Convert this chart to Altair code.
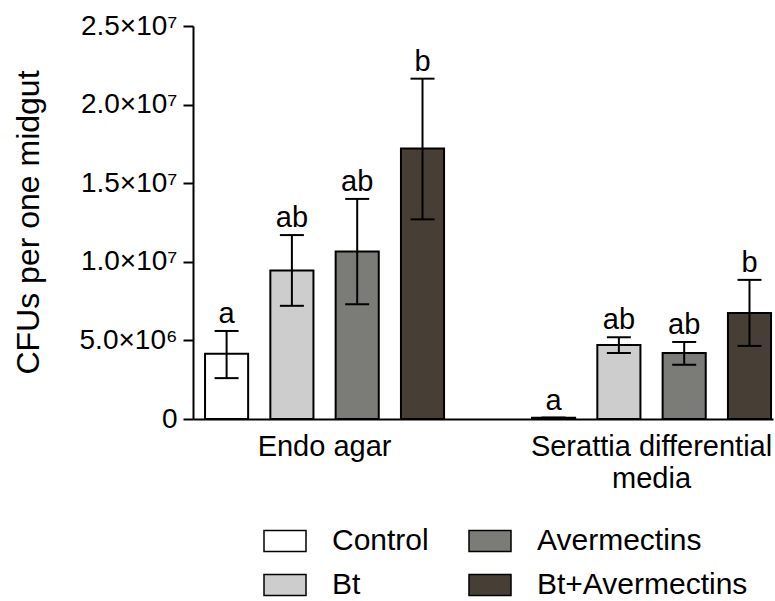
import altair as alt
import pandas as pd

# ---- data ----
groups = ["Endo agar", "Serattia differential media"]
treatments = ["Control", "Bt", "Avermectins", "Bt+Avermectins"]
colors = ["#ffffff", "#cdcdcd", "#7b7c77", "#473f35"]

mean_endo = [4.15e6, 9.45e6, 1.065e7, 1.72e7]
lo_endo = [2.6e6, 7.2e6, 7.3e6, 1.27e7]
hi_endo = [5.6e6, 1.17e7, 1.40e7, 2.165e7]
letters_endo = ["a", "ab", "ab", "b"]

mean_serr = [0.08e6, 4.7e6, 4.2e6, 6.75e6]
lo_serr = [0.08e6, 4.2e6, 3.45e6, 4.65e6]
hi_serr = [0.08e6, 5.2e6, 4.9e6, 8.85e6]
letters_serr = ["a", "ab", "ab", "b"]

tick_values = [0, 5e6, 1e7, 1.5e7, 2e7, 2.5e7]
tick_labels = ["0", "5.0×10⁶", "1.0×10⁷", "1.5×10⁷", "2.0×10⁷", "2.5×10⁷"]
x_label_lines = {"Endo agar": ["Endo agar"],
                 "Serattia differential media": ["Serattia differential", "media"]}

rows = []
for g, means, los, his, lets in [
    (groups[0], mean_endo, lo_endo, hi_endo, letters_endo),
    (groups[1], mean_serr, lo_serr, hi_serr, letters_serr),
]:
    for t, m, lo, hi, l in zip(treatments, means, los, his, lets):
        rows.append({"group": g, "treatment": t, "mean": m, "lo": lo, "hi": hi, "letter": l})
df = pd.DataFrame(rows)

FONT = "Liberation Sans"

# label expressions built from the arrays
y_expr = "''"
for v, lab in zip(tick_values, tick_labels):
    y_expr = f"abs(datum.value - {v}) < 1 ? '{lab}' : ({y_expr})"
x_expr = "datum.label"
for k, lines in x_label_lines.items():
    arr = "[" + ", ".join(f"'{s}'" for s in lines) + "]"
    x_expr = f"datum.label == '{k}' ? {arr} : ({x_expr})"

x_enc = alt.X(
    "group:N",
    sort=groups,
    scale=alt.Scale(paddingInner=0.269, paddingOuter=0.0214, align=0.86),
    axis=alt.Axis(
        title=None, labelAngle=0, ticks=False, tickSize=0, labelPadding=13,
        labelFontSize=29, labelFont=FONT, labelColor="black", labelLineHeight=32,
        domainColor="black", domainWidth=2, labelExpr=x_expr, labelBaseline="top",
        labelLimit=500,
    ),
)
xoff_enc = alt.XOffset("treatment:N", sort=treatments,
                       scale=alt.Scale(paddingInner=0.34, paddingOuter=0))

y_scale = alt.Scale(domain=[0, 2.5e7], nice=False, zero=True)
y_axis = alt.Axis(
    title="CFUs per one midgut", values=tick_values, labelExpr=y_expr,
    grid=False, domainColor="black", domainWidth=2, tickColor="black", tickWidth=2,
    tickSize=10, labelFontSize=28, labelFont=FONT, labelColor="black", labelPadding=6,
    titleFontSize=32, titleFont=FONT, titleColor="black", titleFontWeight="normal",
    titleAngle=270, titleX=-155, titleY=196, titleBaseline="alphabetic", titleAlign="center",
)

base = alt.Chart(df).encode(x=x_enc, xOffset=xoff_enc)

bars = base.mark_bar(stroke="black", strokeWidth=2).encode(
    y=alt.Y("mean:Q", scale=y_scale, axis=y_axis),
    fill=alt.Fill(
        "treatment:N",
        scale=alt.Scale(domain=treatments, range=colors),
        legend=alt.Legend(
            title=None, orient="none", legendX=70, legendY=493, columns=2,
            symbolType="M-1,-0.5H1V0.5H-1Z", symbolSize=1764,
            symbolStrokeColor="black", symbolStrokeWidth=1.5, symbolOpacity=1,
            labelFontSize=30, labelFont=FONT, labelColor="black", labelOffset=25,
            columnPadding=37, rowPadding=7, padding=0, labelLimit=400,
        ),
    ),
)

rules = base.mark_rule(color="black", strokeWidth=2).encode(
    y=alt.Y("lo:Q", scale=y_scale, axis=y_axis), y2="hi:Q"
)
cap_hi = base.mark_tick(color="black", size=24, thickness=2, opacity=1).encode(
    y=alt.Y("hi:Q", scale=y_scale, axis=y_axis)
)
cap_lo = base.mark_tick(color="black", size=24, thickness=2, opacity=1).encode(
    y=alt.Y("lo:Q", scale=y_scale, axis=y_axis)
)
letters = base.mark_text(
    dy=-8, baseline="alphabetic", fontSize=29, font=FONT, color="black"
).encode(y=alt.Y("hi:Q", scale=y_scale, axis=y_axis), text="letter:N")

chart = (
    alt.layer(bars, rules, cap_hi, cap_lo, letters)
    .properties(
        width=580, height=393,
        autosize=alt.AutoSizeParams(type="none"),
        padding={"left": 193, "top": 26, "right": 2, "bottom": 182},
        background="white",
    )
    .configure_view(stroke=None)
)

chart.save("out.html", embed_options={"renderer": "svg", "actions": False})
